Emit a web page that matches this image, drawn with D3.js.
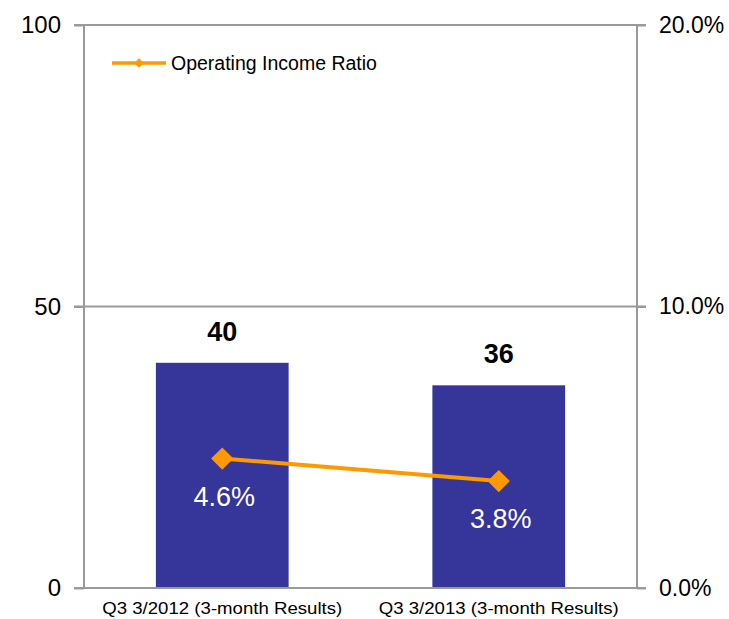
<!DOCTYPE html>
<html>
<head>
<meta charset="utf-8">
<script src="https://cdn.jsdelivr.net/npm/d3@7"></script>
<style>
  body { margin: 0; background: #fff; }
  text { font-family: "Liberation Sans", Arial, sans-serif; }
</style>
</head>
<body>
<svg width="729" height="619"></svg>
<script>
var categories = ["Q3 3/2012 (3-month Results)", "Q3 3/2013 (3-month Results)"];
var incomeValues = [40, 36];
var ratioValues = [4.6, 3.8];
var leftTicks = [0, 50, 100];
var rightTicks = [0, 10, 20];
var seriesName = "Operating Income Ratio";

var svg = d3.select("svg");
var margin = {left: 84, right: 92, top: 25, bottom: 31};
var width = +svg.attr("width"), height = +svg.attr("height");
var x0 = margin.left, x1 = width - margin.right;
var yTop = margin.top, yBot = height - margin.bottom;

var x = d3.scaleBand().domain(categories).range([x0, x1]).paddingInner(0.52).paddingOuter(0.26);
var y = d3.scaleLinear().domain([0, 100]).range([yBot, yTop]);
var y2 = d3.scaleLinear().domain([0, 20]).range([yBot, yTop]);

var grey = "#9a9a9a";
var cx = function(i) { return x(categories[i]) + x.bandwidth() / 2; };

// gridlines
svg.append("g").selectAll("line")
  .data(leftTicks.filter(function(d) { return d > 0; }))
  .enter().append("line")
    .attr("x1", x0 - 10).attr("x2", x1 + 9)
    .attr("y1", function(d) { return y(d); })
    .attr("y2", function(d) { return y(d); })
    .attr("stroke", grey).attr("stroke-width", 2);

// bars
svg.append("g").selectAll("rect")
  .data(incomeValues)
  .enter().append("rect")
    .attr("x", function(d, i) { return x(categories[i]); })
    .attr("width", x.bandwidth())
    .attr("y", function(d) { return y(d); })
    .attr("height", function(d) { return y(0) - y(d); })
    .attr("fill", "#35359a");

// left axis
var leftAxis = d3.axisLeft(y).tickValues(leftTicks).tickSize(10).tickPadding(13).tickFormat(d3.format("d"));
var gl = svg.append("g").attr("transform", "translate(" + x0 + ",0)").call(leftAxis);
gl.select(".domain").attr("stroke", grey).attr("stroke-width", 2).attr("d", "M0," + yTop + "V" + yBot);
gl.selectAll(".tick line").attr("stroke", grey).attr("stroke-width", 2);
gl.selectAll(".tick text").attr("font-size", 24).attr("fill", "#000")
  .attr("font-family", "Liberation Sans, Arial, sans-serif");

// right axis
var rightAxis = d3.axisRight(y2).tickValues(rightTicks).tickSize(9).tickPadding(13)
  .tickFormat(function(d) { return d.toFixed(1) + "%"; });
var gr = svg.append("g").attr("transform", "translate(" + x1 + ",0)").call(rightAxis);
gr.select(".domain").attr("stroke", grey).attr("stroke-width", 2).attr("d", "M0," + yTop + "V" + yBot);
gr.selectAll(".tick line").attr("stroke", grey).attr("stroke-width", 2);
gr.selectAll(".tick text").attr("font-size", 23).attr("fill", "#000")
  .attr("font-family", "Liberation Sans, Arial, sans-serif");

// baseline
svg.append("line")
  .attr("x1", x0 - 10).attr("x2", x1 + 9)
  .attr("y1", y(0)).attr("y2", y(0))
  .attr("stroke", grey).attr("stroke-width", 2);

// category labels
svg.append("g").selectAll("text")
  .data(categories)
  .enter().append("text")
    .attr("x", function(d) { return x(d) + x.bandwidth() / 2; })
    .attr("y", yBot + 26)
    .attr("text-anchor", "middle")
    .attr("font-size", 17)
    .attr("textLength", 240)
    .attr("lengthAdjust", "spacingAndGlyphs")
    .attr("fill", "#000")
    .text(function(d) { return d; });

// bar value labels
svg.append("g").selectAll("text")
  .data(incomeValues)
  .enter().append("text")
    .attr("x", function(d, i) { return cx(i); })
    .attr("y", function(d) { return y(d) - 22; })
    .attr("text-anchor", "middle")
    .attr("font-size", 27).attr("font-weight", "bold")
    .attr("fill", "#000")
    .text(function(d) { return d; });

// ratio line
var line = d3.line()
  .x(function(d, i) { return cx(i); })
  .y(function(d) { return y2(d); });

svg.append("path")
  .datum(ratioValues)
  .attr("d", line)
  .attr("fill", "none")
  .attr("stroke", "#ff9900")
  .attr("stroke-width", 4);

var diamond = d3.symbol().type(d3.symbolDiamond2).size(315);
svg.append("g").selectAll("path")
  .data(ratioValues)
  .enter().append("path")
    .attr("d", diamond)
    .attr("transform", function(d, i) { return "translate(" + cx(i) + "," + y2(d) + ")"; })
    .attr("fill", "#ff9900");

svg.append("g").selectAll("text")
  .data(ratioValues)
  .enter().append("text")
    .attr("x", function(d, i) { return cx(i) + 2; })
    .attr("y", function(d) { return y2(d) + 47; })
    .attr("text-anchor", "middle")
    .attr("font-size", 27)
    .attr("fill", "#fff")
    .text(function(d) { return d.toFixed(1) + "%"; });

// legend
var lg = svg.append("g").attr("transform", "translate(112,63)");
lg.append("line").attr("x1", 0).attr("x2", 54).attr("y1", 0).attr("y2", 0)
  .attr("stroke", "#ff9900").attr("stroke-width", 3.5);
lg.append("path").attr("d", d3.symbol().type(d3.symbolDiamond2).size(55))
  .attr("transform", "translate(27,0)").attr("fill", "#ff9900");
lg.append("text").attr("x", 59).attr("y", 7).attr("font-size", 19.5).attr("fill", "#000").text(seriesName);
</script>
</body>
</html>
